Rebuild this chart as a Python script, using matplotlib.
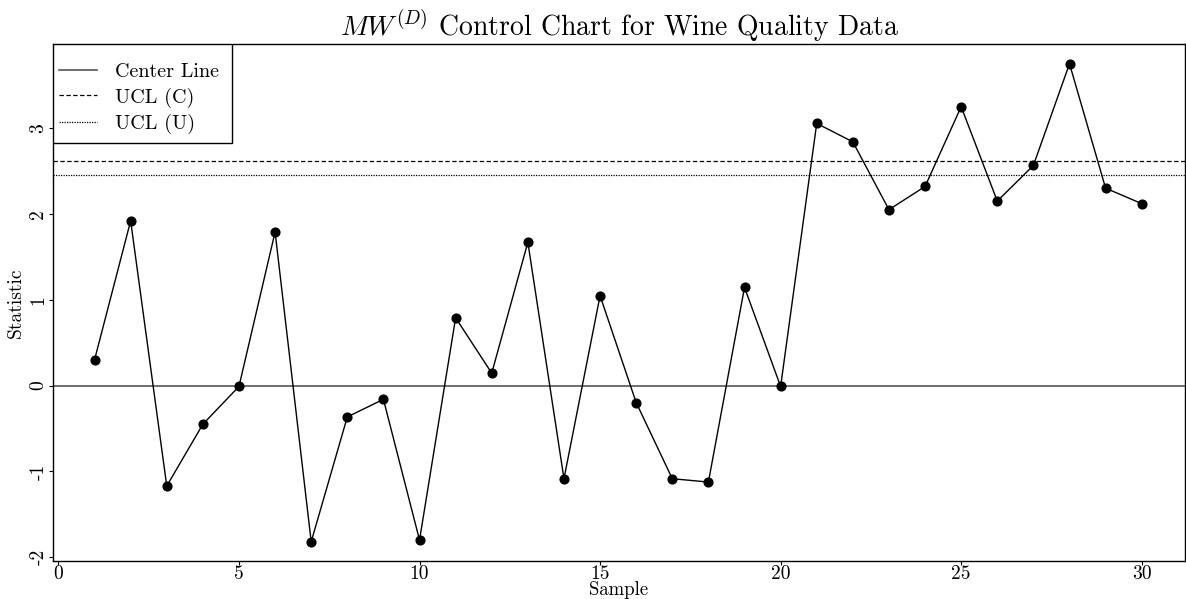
import matplotlib
matplotlib.use("Agg")
import matplotlib.pyplot as plt
from matplotlib.patches import Rectangle

plt.rcParams["font.family"] = "cmr10"
plt.rcParams["mathtext.fontset"] = "cm"
plt.rcParams["axes.unicode_minus"] = False
plt.rcParams["axes.formatter.use_mathtext"] = False

# statistic per sample
sample = list(range(1, 31))
stat = [0.30, 1.92, -1.17, -0.45, -0.01, 1.79, -1.82, -0.365, -0.16, -1.80,
        0.79, 0.145, 1.67, -1.085, 1.047, -0.198, -1.085, -1.124, 1.144, -0.01,
        3.055, 2.84, 2.05, 2.32, 3.25, 2.15, 2.565, 3.75, 2.30, 2.12]
center = 0.0
ucl_c = 2.62
ucl_u = 2.45

xticks = [0, 5, 10, 15, 20, 25, 30]
yticks = [-2, -1, 0, 1, 2, 3]

fig = plt.figure(figsize=(11.86, 5.99), dpi=100)
ax = fig.add_axes([0.0447, 0.064, 0.9545, 0.8625])

ax.plot(sample, stat, color="black", lw=1.0, marker="o", ms=6.3, zorder=3)
l1 = ax.axhline(center, color="#555555", lw=1.2, ls="-")
l2 = ax.axhline(ucl_c, color="black", lw=0.9, ls=(0, (3.5, 2)))
l3 = ax.axhline(ucl_u, color="black", lw=0.9, ls=(0, (1, 1)))

ax.set_xlim(-0.15, 31.2)
ax.set_ylim(-2.04, 3.98)
ax.set_xticks(xticks)
ax.set_yticks(yticks)
ax.set_xticklabels([str(t) for t in xticks])
ax.set_yticklabels([str(t) for t in yticks])
ax.tick_params(axis="both", direction="out", length=3, width=0.8, labelsize=14, pad=0)
ax.tick_params(axis="y", pad=1)
for lab in ax.get_yticklabels():
    lab.set_rotation(90)
    lab.set_va("center")

for s in ax.spines.values():
    s.set_linewidth(1.0)

ax.set_xlabel("Sample", fontsize=13.5, labelpad=-1)
ax.set_ylabel("Statistic", fontsize=14, labelpad=3)
ax.set_title(r"$MW^{(D)}$ Control Chart for Wine Quality Data", fontsize=20, pad=4)

# legend box drawn R style: frame separate from entries
box = Rectangle((0, 0.8084), 0.158, 0.1916, transform=ax.transAxes,
                facecolor="white", edgecolor="black", lw=1.0, zorder=4)
ax.add_patch(box)
leg = ax.legend([l1, l2, l3], ["Center Line", "UCL (C)", "UCL (U)"],
                loc="upper left", bbox_to_anchor=(0.0053, 0.963), fontsize=14.5,
                frameon=False, borderaxespad=0, borderpad=0,
                handlelength=1.9, handletextpad=0.9, labelspacing=0.31)
leg.set_zorder(5)

fig.savefig("out.png", dpi=100)
